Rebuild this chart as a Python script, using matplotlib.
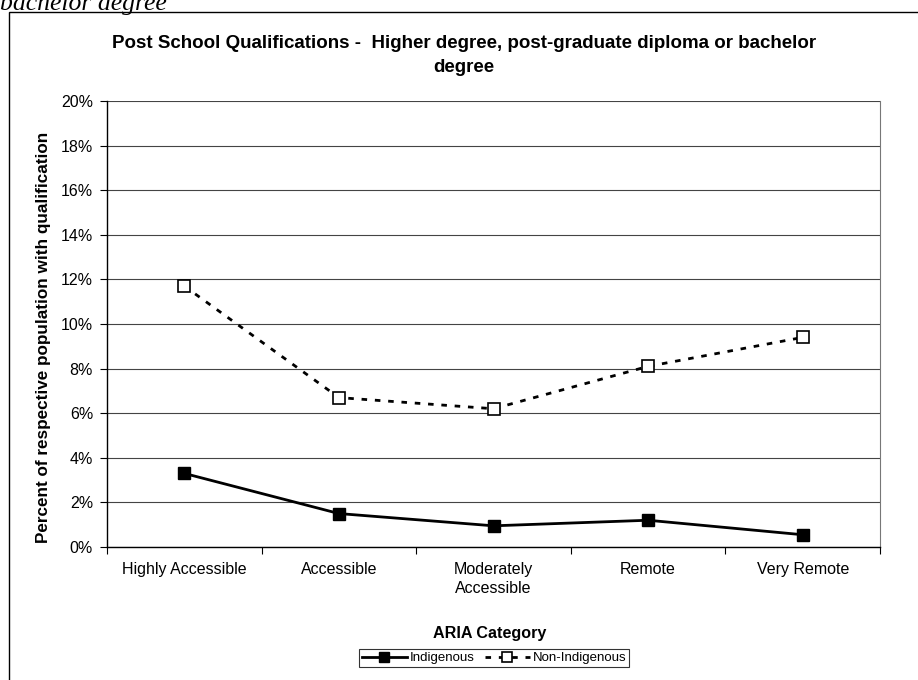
import matplotlib
matplotlib.use("Agg")
import matplotlib.pyplot as plt
from matplotlib.patches import Rectangle
from matplotlib.ticker import FixedLocator, PercentFormatter

# ---------------------------------------------------------------------------
# Data
# ---------------------------------------------------------------------------
categories = ["Highly Accessible", "Accessible", "Moderately\nAccessible",
              "Remote", "Very Remote"]
indigenous = [3.3, 1.5, 0.95, 1.2, 0.55]
non_indigenous = [11.7, 6.7, 6.2, 8.1, 9.4]
y_ticks = [0, 2, 4, 6, 8, 10, 12, 14, 16, 18, 20]

plt.rcParams["font.family"] = ["Liberation Sans", "DejaVu Sans"]

fig = plt.figure(figsize=(9.18, 6.8), dpi=100)
ax = fig.add_axes([107 / 918, 1 - 547 / 680, (880 - 107) / 918, (547 - 101) / 680])

x = list(range(len(categories)))
ax.plot(x, indigenous, color="black", lw=2.0, marker="s", ms=8.5,
        mfc="black", mec="black", label="Indigenous", zorder=3)
ax.plot(x, non_indigenous, color="black", lw=2.0, ls=(0, (2, 2.8)),
        marker="s", ms=8.5, mfc="white", mec="black", mew=1.2,
        label="Non-Indigenous", zorder=3)

ax.set_xlim(-0.5, len(categories) - 0.5)
ax.set_ylim(0, 20)
ax.set_yticks(y_ticks)
ax.yaxis.set_major_formatter(PercentFormatter(decimals=0))
ax.grid(axis="y", color="#444444", lw=0.8)
ax.set_axisbelow(True)

# Excel-style category axis: ticks on boundaries, labels in centres
ax.set_xticks(x)
ax.set_xticklabels(categories, fontsize=11.5, linespacing=1.3)
ax.tick_params(axis="x", which="major", length=0, pad=11)
ax.xaxis.set_minor_locator(FixedLocator([i - 0.5 for i in range(len(categories) + 1)]))
ax.tick_params(axis="x", which="minor", length=5, direction="out", width=0.8)
ax.tick_params(axis="y", labelsize=11.5, length=5, width=0.8, pad=5)

for s in ("left", "bottom"):
    ax.spines[s].set_linewidth(1.0)
ax.spines["top"].set_visible(False)
ax.spines["right"].set_color("#777777")
ax.spines["right"].set_linewidth(0.8)
ax.spines["right"].set_linestyle((0, (3, 1)))

ax.set_ylabel("Percent of respective population with qualification",
              fontsize=12.3, fontweight="bold")
ax.yaxis.set_label_coords(-0.073, 0.47)
ax.set_xlabel("ARIA Category", fontsize=11.6, fontweight="bold")
ax.xaxis.set_label_coords(0.495, -0.178)

fig.text(464 / 918, 1 - 44 / 680,
         "Post School Qualifications -  Higher degree, post-graduate diploma or bachelor",
         ha="center", va="center", fontsize=13.5, fontweight="bold")
fig.text(464 / 918, 1 - 67 / 680, "degree", ha="center", va="center",
         fontsize=13.5, fontweight="bold")

# caption fragment cut off at the top of the page
fig.text(0.0, 1 - 10 / 680, "bachelor degree", ha="left", va="baseline",
         fontsize=18.5, style="italic", family=["Liberation Serif", "DejaVu Serif"])

# outer chart border (cropped on right and bottom)
fig.patches.append(Rectangle((9 / 918, -0.05), 1.2, 1 - 12 / 680 + 0.05,
                             transform=fig.transFigure, fill=False,
                             ec="black", lw=1.0))

leg = fig.legend(loc="center", bbox_to_anchor=(494 / 918, 1 - 658 / 680), ncol=2,
                 fontsize=9.5, frameon=True, fancybox=False, edgecolor="black",
                 handlelength=3.4, columnspacing=0.8, handletextpad=0.2,
                 borderpad=0.25, markerscale=0.85)
leg.get_frame().set_linewidth(0.8)

fig.savefig("out.png", dpi=100)
